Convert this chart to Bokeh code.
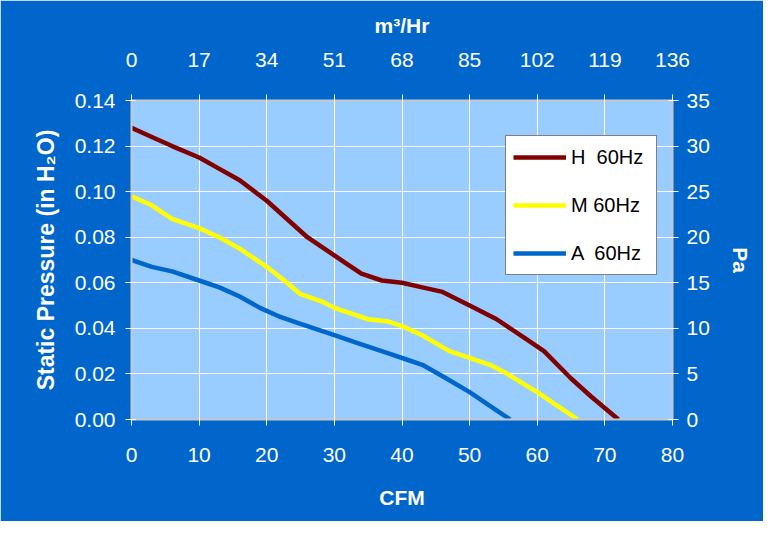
from bokeh.plotting import figure
from bokeh.models import Range1d, LinearAxis, FixedTicker, NumeralTickFormatter, Legend, LegendItem
from bokeh.embed import file_html
from bokeh.resources import INLINE

# ---- data ----
h_cfm = [0, 3, 6, 10, 13, 16, 20, 23, 26, 29, 32, 34, 37, 40, 43, 46, 50, 54, 58, 61, 65, 68, 72]
h_p = [0.128, 0.124, 0.120, 0.115, 0.110, 0.105, 0.096, 0.088, 0.080, 0.074, 0.068, 0.064,
       0.061, 0.060, 0.058, 0.056, 0.050, 0.044, 0.036, 0.030, 0.018, 0.010, 0.0]
m_cfm = [0, 3, 6, 10, 13, 16, 20, 23, 25, 28, 30, 33, 35, 38, 40, 43, 47, 50, 53, 55, 60, 63, 66]
m_p = [0.098, 0.094, 0.088, 0.084, 0.080, 0.075, 0.067, 0.060, 0.055, 0.052, 0.049, 0.046,
       0.044, 0.043, 0.041, 0.037, 0.030, 0.027, 0.024, 0.021, 0.012, 0.006, 0.0]
a_cfm = [0, 3, 6, 10, 13, 16, 19, 22, 25, 28, 30, 33, 35, 38, 41, 43, 46, 50, 53, 56]
a_p = [0.070, 0.067, 0.065, 0.061, 0.058, 0.054, 0.049, 0.045, 0.042, 0.039, 0.037, 0.034,
       0.032, 0.029, 0.026, 0.024, 0.019, 0.012, 0.006, 0.0]

series_labels = ["H  60Hz", "M 60Hz", "A  60Hz"]
cfm_ticks = [0, 10, 20, 30, 40, 50, 60, 70, 80]
inh2o_ticks = [0.00, 0.02, 0.04, 0.06, 0.08, 0.10, 0.12, 0.14]
m3hr_ticks = [0, 17, 34, 51, 68, 85, 102, 119, 136]
pa_ticks = [0, 5, 10, 15, 20, 25, 30, 35]

BG = "#0066CC"
FONT = "Liberation Sans"

p = figure(width=763, height=521, output_backend="svg", toolbar_location=None,
           x_range=Range1d(0, 80), y_range=Range1d(0, 0.14),
           x_axis_location=None, y_axis_location=None,
           frame_width=541, frame_height=319,
           min_border_left=131, min_border_right=91, min_border_top=100, min_border_bottom=102)
p.border_fill_color = BG
p.background_fill_color = "#99CCFF"
p.outline_line_color = None
p.extra_x_ranges = {"m3": Range1d(0, 136)}
p.extra_y_ranges = {"pa": Range1d(0, 35)}


def style(ax, standoff, label_standoff, label_size="21px"):
    ax.axis_line_color = "#C8C8C8"
    ax.axis_line_width = 2
    ax.major_tick_line_color = "white"
    ax.major_tick_out = 6
    ax.major_tick_in = 4
    ax.minor_tick_line_color = None
    ax.major_label_text_color = "white"
    ax.major_label_text_font = FONT
    ax.major_label_text_font_size = "21px"
    ax.major_label_standoff = standoff
    ax.axis_label_text_color = "white"
    ax.axis_label_text_font = FONT
    ax.axis_label_text_font_style = "bold"
    ax.axis_label_text_font_size = label_size
    ax.axis_label_standoff = label_standoff


xb = LinearAxis(ticker=FixedTicker(ticks=cfm_ticks), axis_label="CFM")
style(xb, 22, 21)
p.add_layout(xb, "below")

xt = LinearAxis(x_range_name="m3", ticker=FixedTicker(ticks=m3hr_ticks), axis_label="m³/Hr")
style(xt, 28, 13)
p.add_layout(xt, "above")

yl = LinearAxis(ticker=FixedTicker(ticks=inh2o_ticks), axis_label="Static Pressure (in H₂O)",
                formatter=NumeralTickFormatter(format="0.00"))
style(yl, 10, 13, "23px")
p.add_layout(yl, "left")

yr = LinearAxis(y_range_name="pa", ticker=FixedTicker(ticks=pa_ticks), axis_label="Pa")
style(yr, 8, 16)
p.add_layout(yr, "right")

p.xgrid.ticker = FixedTicker(ticks=cfm_ticks)
p.ygrid.ticker = FixedTicker(ticks=inh2o_ticks)
p.xgrid.grid_line_color = "white"
p.ygrid.grid_line_color = "white"
p.xgrid.grid_line_width = 1
p.ygrid.grid_line_width = 1

rh = p.line(h_cfm, h_p, line_color="#800000", line_width=4.5)
rm = p.line(m_cfm, m_p, line_color="#FFFF00", line_width=4.5)
ra = p.line(a_cfm, a_p, line_color="#0066CC", line_width=4.5)

legend = Legend(items=[LegendItem(label=series_labels[0], renderers=[rh]),
                       LegendItem(label=series_labels[1], renderers=[rm]),
                       LegendItem(label=series_labels[2], renderers=[ra])],
                location=(374, 144))
legend.background_fill_color = "white"
legend.background_fill_alpha = 1
legend.border_line_color = "black"
legend.border_line_width = 1
legend.label_text_font = FONT
legend.label_text_font_size = "20px"
legend.label_text_color = "black"
legend.glyph_width = 53
legend.glyph_height = 28
legend.label_height = 28
legend.label_standoff = 5
legend.spacing = 20
legend.padding = 7
legend.margin = 0
legend.label_width = 78
p.add_layout(legend, "center")

open("out.html", "w").write(file_html(p, INLINE))
